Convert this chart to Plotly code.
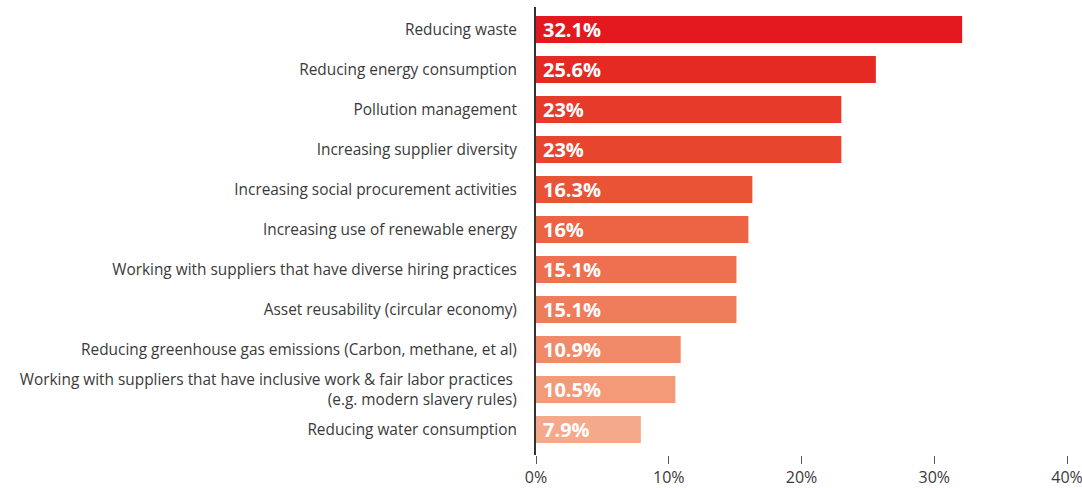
import plotly.graph_objects as go

categories = [
    "Reducing waste",
    "Reducing energy consumption",
    "Pollution management",
    "Increasing supplier diversity",
    "Increasing social procurement activities",
    "Increasing use of renewable energy",
    "Working with suppliers that have diverse hiring practices",
    "Asset reusability (circular economy)",
    "Reducing greenhouse gas emissions (Carbon, methane, et al)",
    "Working with suppliers that have inclusive work & fair labor practices <br>(e.g. modern slavery rules)",
    "Reducing water consumption",
]
values = [32.1, 25.6, 23, 23, 16.3, 16, 15.1, 15.1, 10.9, 10.5, 7.9]
value_labels = ["32.1%", "25.6%", "23%", "23%", "16.3%", "16%", "15.1%", "15.1%", "10.9%", "10.5%", "7.9%"]
bar_colors = [
    "#E3191F", "#E42A22", "#E63A2B", "#E8452F", "#EA5436", "#EC6444",
    "#EE7050", "#EF7C5A", "#F18A68", "#F39A78", "#F5A98B",
]
x_ticks = [0, 10, 20, 30, 40]
x_tick_labels = ["0%", "10%", "20%", "30%", "40%"]

positions = list(range(len(categories)))

fig = go.Figure(
    go.Bar(
        x=values,
        y=positions,
        orientation="h",
        width=0.675,
        marker=dict(color=bar_colors, line=dict(width=0)),
        hoverinfo="skip",
    )
)

# value labels sitting at the base of each bar
for pos, label in zip(positions, value_labels):
    fig.add_annotation(
        x=0, y=pos, xref="x", yref="y",
        text=label, showarrow=False,
        xanchor="left", yanchor="middle", xshift=5, yshift=0,
        font=dict(family="Open Sans", size=20, color="white", weight="bold"),
    )

fig.update_layout(
    width=1082,
    height=488,
    margin=dict(l=536, r=15, t=7, b=33, autoexpand=False),
    paper_bgcolor="white",
    plot_bgcolor="white",
    showlegend=False,
    font=dict(family="Open Sans", color="#3a3a3a"),
    xaxis=dict(
        range=[0, 40],
        tickvals=x_ticks,
        ticktext=x_tick_labels,
        showgrid=False,
        zeroline=False,
        showline=False,
        automargin=False,
        ticks="outside",
        ticklen=8,
        tickwidth=1,
        tickcolor="#555555",
        ticklabeloverflow="allow",
        tickfont=dict(size=16, color="#3a3a3a"),
    ),
    yaxis=dict(
        range=[10.6375, -0.5625],
        tickvals=positions,
        ticktext=categories,
        showgrid=False,
        zeroline=False,
        showline=True,
        automargin=False,
        linecolor="#333333",
        linewidth=2,
        ticks="",
        ticklabelstandoff=14,
        tickfont=dict(size=15.4, color="#3a3a3a"),
    ),
)

fig.write_html("out.html")
